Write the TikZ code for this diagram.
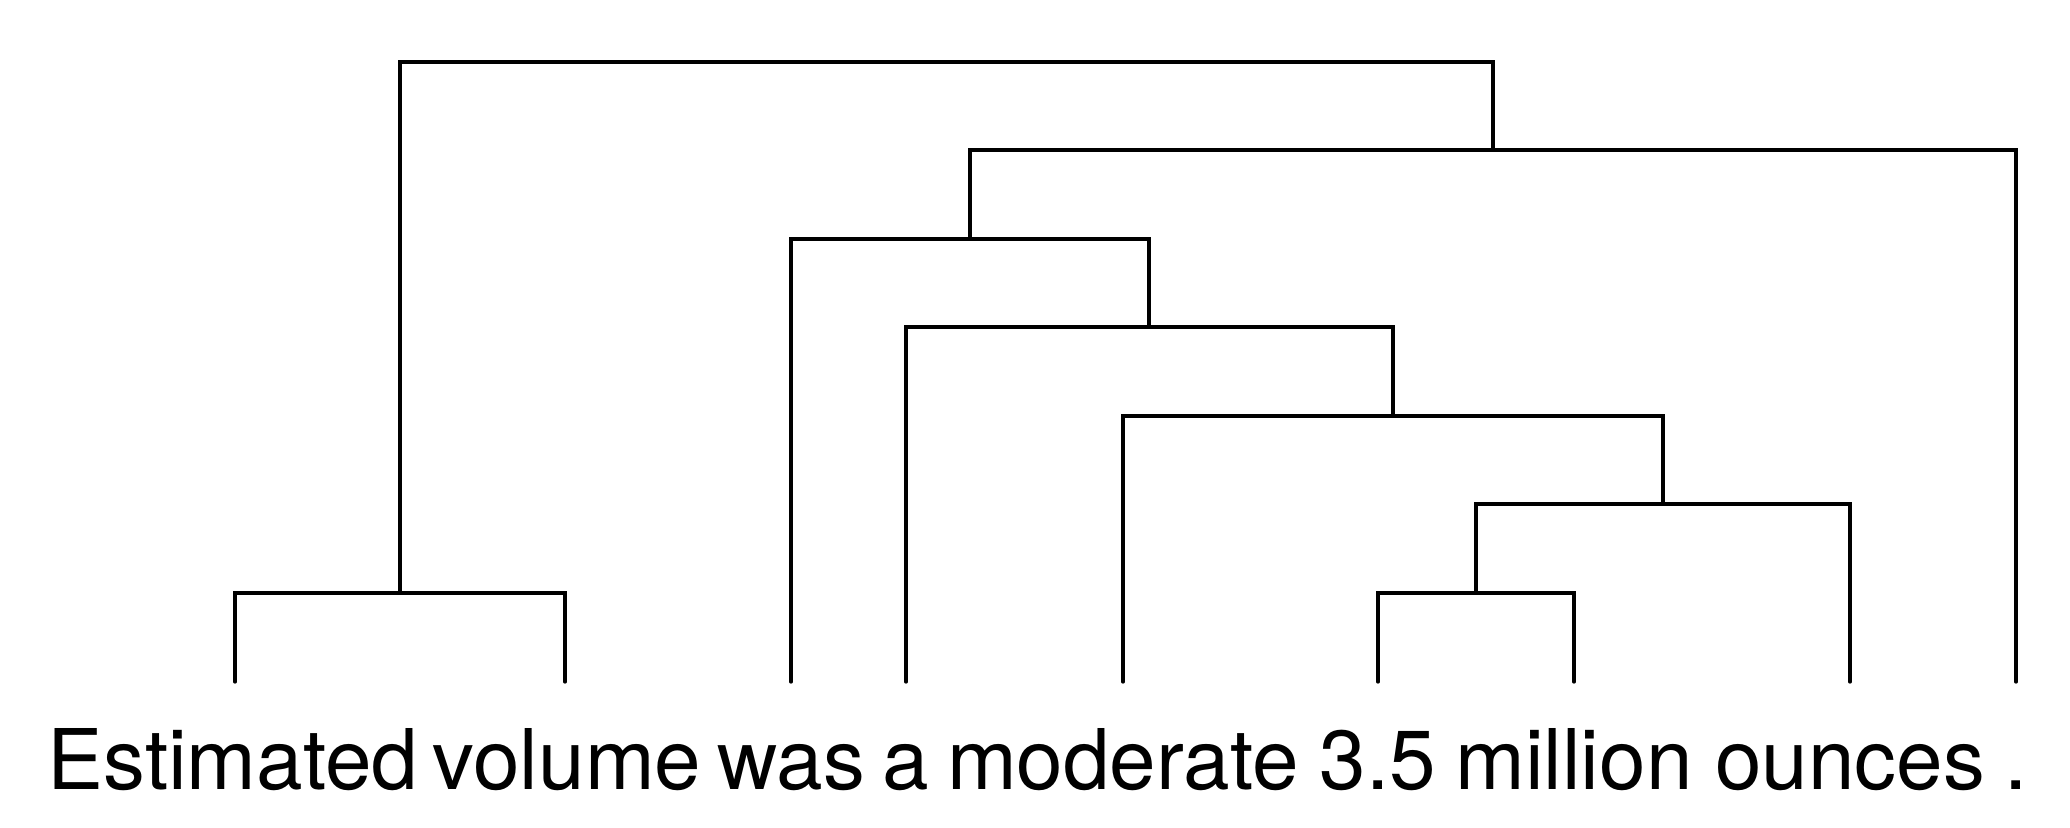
\documentclass[tikz,border=0pt]{standalone}
\usepackage{fontspec}
\setmainfont{TeX Gyre Heros}
\usetikzlibrary{positioning}
\tikzset{
	word/.style={
		anchor=base,
		inner sep=0pt,
		font=\fontsize{23.8}{30}\selectfont
	},
	branch/.style={
		line width=0.95pt,
		line cap=round,
		line join=miter
	}
}

\begin{document}
\begin{tikzpicture}[x=0.01cm, y=-0.01cm]
		\useasboundingbox (0,0) rectangle (2070,828);
		
		% Words
		\node[word] (w1) at (233,789) {Estimated};
		\node[word] (w2) at (567,789) {volume};
		\node[word] (w3) at (791,789) {was};
		\node[word] (w4) at (906,789) {a};
		\node[word] (w5) at (1123,789) {moderate};
		\node[word] (w6) at (1378,789) {3.5};
		\node[word] (w7) at (1574,789) {million};
		\node[word] (w8) at (1850,789) {ounces};
		\node[word] (w9) at (2016,789) {.};
		
		% Leaf ends
		\coordinate (l1) at (235,682);
		\coordinate (l2) at (565,682);
		\coordinate (l3) at (791,682);
		\coordinate (l4) at (906,682);
		\coordinate (l5) at (1123,682);
		\coordinate (l6) at (1378,682);
		\coordinate (l7) at (1574,682);
		\coordinate (l8) at (1850,682);
		\coordinate (l9) at (2016,682);
		
		% Merges
		\coordinate (n1) at (400,593);
		\coordinate (n2) at (1476,593);
		\coordinate (n3) at (1663,504);
		\coordinate (n4) at (1393,416);
		\coordinate (n5) at (1149,327);
		\coordinate (n6) at (970,239);
		\coordinate (n7) at (1493,150);
		\coordinate (n8) at (946,62);
		
		% Branches
		\draw[branch] (l1) |- (n1) -| (l2);
		\draw[branch] (l6) |- (n2) -| (l7);
		\draw[branch] (n2) |- (n3) -| (l8);
		\draw[branch] (l5) |- (n4) -| (n3);
		\draw[branch] (l4) |- (n5) -| (n4);
		\draw[branch] (l3) |- (n6) -| (n5);
		\draw[branch] (n6) |- (n7) -| (l9);
		\draw[branch] (n1) |- (n8) -| (n7);
		
	\end{tikzpicture}
\end{document}
